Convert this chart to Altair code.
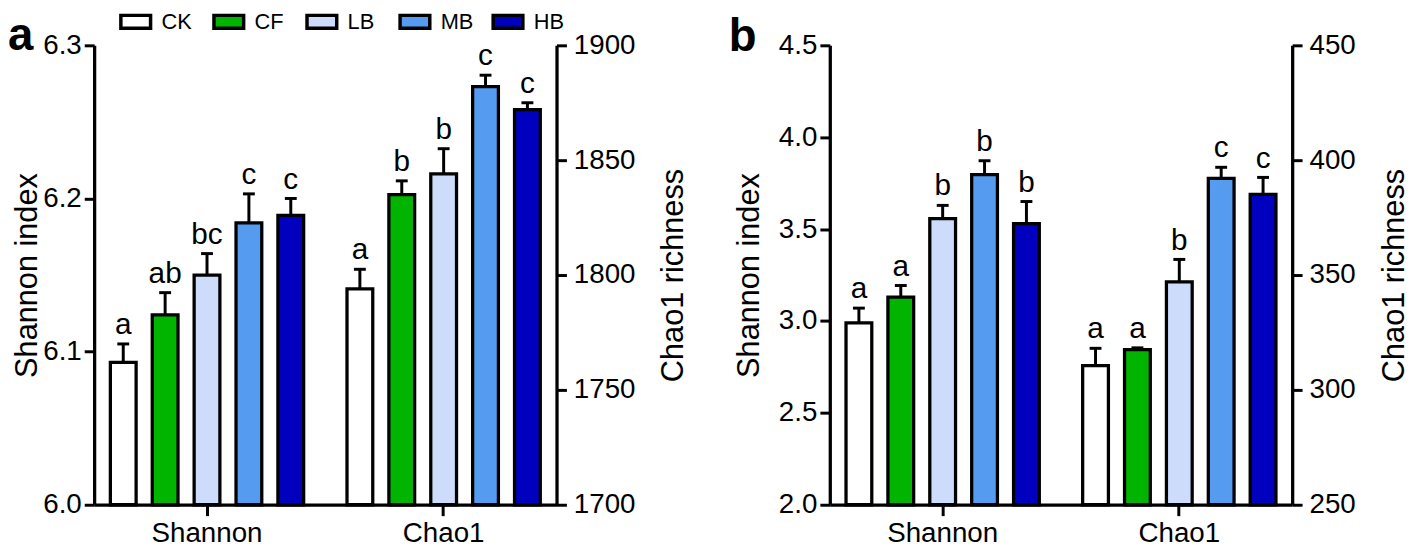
import altair as alt
import pandas as pd

# ---------------- data ----------------
groups = ["CK", "CF", "LB", "MB", "HB"]
metrics = ["Shannon", "Chao1"]
colors = ["#FFFFFF", "#00B400", "#CCDCFA", "#559CF0", "#0000BE"]

# panel a
a_shannon_mean = [6.093, 6.124, 6.150, 6.184, 6.189]
a_shannon_se = [0.012, 0.0145, 0.014, 0.019, 0.011]
a_shannon_letters = ["a", "ab", "bc", "c", "c"]
a_chao_mean = [1794, 1835, 1844, 1882, 1872]
a_chao_se = [8.5, 6, 11, 5, 3]
a_chao_letters = ["a", "b", "b", "c", "c"]

# panel b
b_shannon_mean = [2.99, 3.13, 3.557, 3.797, 3.53]
b_shannon_se = [0.08, 0.063, 0.072, 0.075, 0.12]
b_shannon_letters = ["a", "a", "b", "b", "b"]
b_chao_mean = [310.6, 317.5, 347.0, 392.1, 385.1]
b_chao_se = [7.5, 0.8, 9.8, 4.8, 7.4]
b_chao_letters = ["a", "a", "b", "c", "c"]

a_left_ticks = [6.0, 6.1, 6.2, 6.3]
a_right_ticks = [1700, 1750, 1800, 1850, 1900]
b_left_ticks = [2.0, 2.5, 3.0, 3.5, 4.0, 4.5]
b_right_ticks = [250, 300, 350, 400, 450]

FONT = "Liberation Sans"
W, H = 467, 464


def frame(metric, means, ses, letters):
    return pd.DataFrame({
        "metric": [metric] * len(groups),
        "group": groups,
        "mean": means,
        "upper": [m + s for m, s in zip(means, ses)],
        "letter": letters,
    })


xscale = alt.Scale(domain=metrics, paddingInner=0.115, paddingOuter=0.0345)
xoscale = alt.Scale(domain=groups, paddingInner=0.385, paddingOuter=0.1925)
cscale = alt.Scale(domain=groups, range=colors)
xaxis = alt.Axis(title=None, labelAngle=0, labelFont=FONT, labelFontSize=28,
                 labelColor="black", domainColor="black", domainWidth=3.3,
                 tickColor="black", tickWidth=3, tickSize=11, labelPadding=4)


def metric_layer(df, ydom, yvals, yfmt, title, orient, title_pad, label_pad, legend):
    yscale = alt.Scale(domain=ydom, zero=False, nice=False, clamp=True)
    axargs = dict(orient=orient, values=yvals, format=yfmt, title=title,
                  labelFont=FONT, labelFontSize=28, labelColor="black",
                  titleFont=FONT, titleFontSize=31, titleFontWeight="normal",
                  titleColor="black", domainColor="black", domainWidth=3.3,
                  tickColor="black", tickWidth=3, tickSize=10, grid=False,
                  titlePadding=title_pad, labelPadding=label_pad)
    if orient == "right":
        axargs.update(titleAngle=270, titleBaseline="top", titleAlign="center")
    axis = alt.Axis(**axargs)
    x = alt.X("metric:N", sort=metrics, scale=xscale, axis=xaxis)
    xo = alt.XOffset("group:N", sort=groups, scale=xoscale)
    base = alt.Chart(df)
    bars = base.mark_bar(stroke="black", strokeWidth=3.3).encode(
        x=x, xOffset=xo,
        y=alt.Y("mean:Q", scale=yscale, axis=axis),
        color=alt.Color("group:N", sort=groups, scale=cscale, legend=legend),
    )
    rule = base.mark_rule(color="black", strokeWidth=3).encode(
        x=x, xOffset=xo,
        y=alt.Y("mean:Q", scale=yscale, axis=axis),
        y2="upper:Q",
    )
    cap = base.mark_tick(color="black", thickness=3, size=12, orient="horizontal",
                         opacity=1).encode(
        x=x, xOffset=xo,
        y=alt.Y("upper:Q", scale=yscale, axis=axis),
    )
    text = base.mark_text(font=FONT, fontSize=30, baseline="alphabetic", dy=-10,
                          color="black").encode(
        x=x, xOffset=xo,
        y=alt.Y("upper:Q", scale=yscale, axis=axis),
        text="letter:N",
    )
    return alt.layer(bars, rule, cap, text)


legend_a = alt.Legend(
    orient="none", legendX=31, legendY=-35, direction="horizontal", columns=5,
    title=None, symbolType="M-2,-0.866H2V0.866H-2Z", symbolSize=225,
    symbolStrokeColor="black", symbolStrokeWidth=3.5, symbolOpacity=1,
    labelFont=FONT, labelFontSize=22, labelColor="black", labelOffset=15,
    columnPadding=13, gridAlign="all", padding=0,
)


def panel(label, label_x, label_y, sh_mean, sh_se, sh_let, ch_mean, ch_se, ch_let,
          ldom, lticks, rdom, rticks, rfmt, ltp, rtp, legend):
    left = metric_layer(frame("Shannon", sh_mean, sh_se, sh_let), ldom, lticks, ".1f",
                        "Shannon index", "left", ltp, 3, legend)
    right = metric_layer(frame("Chao1", ch_mean, ch_se, ch_let), rdom, rticks, rfmt,
                         "Chao1 richness", "right", rtp, 7, legend)
    tag = alt.Chart(pd.DataFrame({"tag": [label]})).mark_text(
        font=FONT, fontSize=46, fontWeight="bold", align="left",
        baseline="alphabetic", color="black"
    ).encode(x=alt.value(label_x), y=alt.value(label_y), text="tag:N")
    return alt.layer(left, right, tag).resolve_scale(y="independent").properties(
        width=W, height=H)


panel_a = panel("a", -87, 5, a_shannon_mean, a_shannon_se, a_shannon_letters,
                a_chao_mean, a_chao_se, a_chao_letters,
                [6.0, 6.3], a_left_ticks, [1700, 1900], a_right_ticks, "d", -1, 24,
                legend_a)
panel_b = panel("b", -102, 6, b_shannon_mean, b_shannon_se, b_shannon_letters,
                b_chao_mean, b_chao_se, b_chao_letters,
                [2.0, 4.5], b_left_ticks, [250, 450], b_right_ticks, "d", 13, 25, None)

chart = alt.hconcat(panel_a, panel_b, spacing=40).resolve_legend(
    color="independent"
).properties(padding=0, background="white").configure_view(stroke=None)

chart.save("out.html", embed_options={"renderer": "svg", "actions": False})
